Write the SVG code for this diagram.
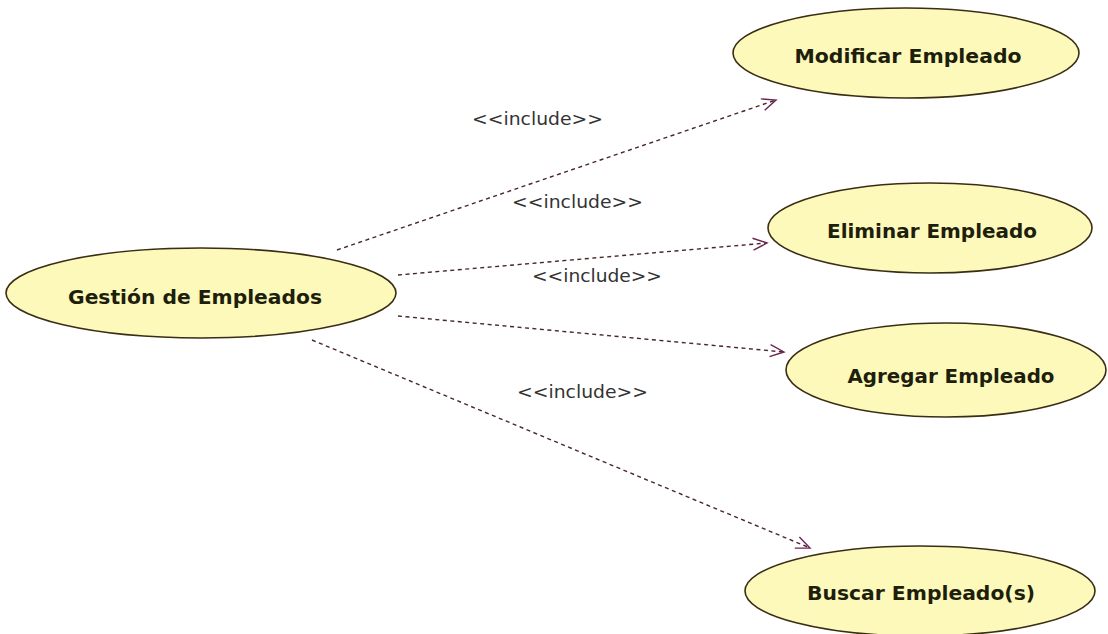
<svg xmlns="http://www.w3.org/2000/svg" width="1108" height="634" viewBox="0 0 1108 634">
<style>
.uc{fill:#fcf9bb;stroke:#3a2d14;stroke-width:1.6}
.lbl{font-family:"DejaVu Sans","Liberation Sans",sans-serif;font-weight:bold;font-size:20px;fill:#1e1e0c;text-anchor:middle}
.edge{fill:none;stroke:#4a2626;stroke-width:1.4;stroke-dasharray:4 3.5}
.inc{font-family:"DejaVu Sans","Liberation Sans",sans-serif;font-size:17px;fill:#333333}
</style>
<defs>
<marker id="arr" markerWidth="20" markerHeight="20" refX="17" refY="8" orient="auto" markerUnits="userSpaceOnUse">
<path d="M3,2 L17,8 L3,14" fill="none" stroke="#6b2450" stroke-width="1.4"/>
</marker>
</defs>
<rect width="1108" height="634" fill="#ffffff"/>
<g id="connectors">
<line class="edge" x1="337" y1="250" x2="776" y2="100" marker-end="url(#arr)"/>
<line class="edge" x1="398" y1="275" x2="767" y2="243" marker-end="url(#arr)"/>
<line class="edge" x1="398" y1="316" x2="784" y2="352" marker-end="url(#arr)"/>
<line class="edge" x1="312" y1="340" x2="810" y2="548" marker-end="url(#arr)"/>
<text class="inc" x="472" y="125" textLength="131" lengthAdjust="spacingAndGlyphs">&lt;&lt;include&gt;&gt;</text>
<text class="inc" x="512" y="208" textLength="131" lengthAdjust="spacingAndGlyphs">&lt;&lt;include&gt;&gt;</text>
<text class="inc" x="532" y="282" textLength="130" lengthAdjust="spacingAndGlyphs">&lt;&lt;include&gt;&gt;</text>
<text class="inc" x="517" y="398" textLength="131" lengthAdjust="spacingAndGlyphs">&lt;&lt;include&gt;&gt;</text>
</g>
<g id="gestion">
<ellipse class="uc" cx="201" cy="293" rx="195" ry="45"/>
<text class="lbl" x="195" y="304" textLength="254" lengthAdjust="spacingAndGlyphs">Gestión de Empleados</text>
</g>
<g id="modificar">
<ellipse class="uc" cx="906" cy="53" rx="173" ry="45"/>
<text class="lbl" x="908" y="63" textLength="227" lengthAdjust="spacingAndGlyphs">Modificar Empleado</text>
</g>
<g id="eliminar">
<ellipse class="uc" cx="930" cy="228" rx="162" ry="45"/>
<text class="lbl" x="932" y="238" textLength="210" lengthAdjust="spacingAndGlyphs">Eliminar Empleado</text>
</g>
<g id="agregar">
<ellipse class="uc" cx="946" cy="370" rx="160" ry="47"/>
<text class="lbl" x="951" y="383" textLength="207" lengthAdjust="spacingAndGlyphs">Agregar Empleado</text>
</g>
<g id="buscar">
<ellipse class="uc" cx="920" cy="591" rx="175" ry="45"/>
<text class="lbl" x="921" y="600" textLength="228" lengthAdjust="spacingAndGlyphs">Buscar Empleado(s)</text>
</g>
</svg>
